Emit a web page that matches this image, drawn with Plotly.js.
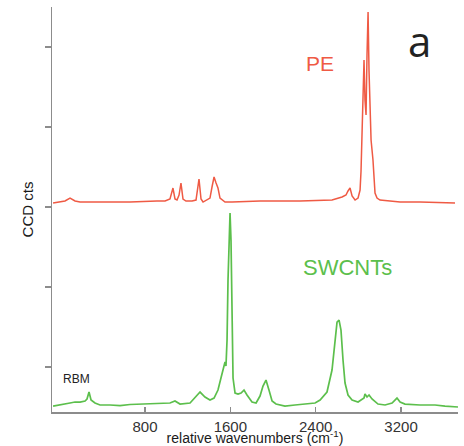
<!DOCTYPE html>
<html>
<head>
<meta charset="utf-8">
<script src="https://cdn.plot.ly/plotly-3.0.1.min.js"></script>
<style>html,body{margin:0;padding:0;background:#fff;}#chart{width:464px;height:446px;}</style>
</head>
<body>
<div id="chart"></div>
<script>
// Wavenumbers (cm^-1) and CCD counts
const peWavenumber = [-62, 3, 50, 97, 144, 191, 378, 659, 912, 988, 1034, 1062, 1081, 1100, 1119, 1137, 1156, 1184, 1241, 1278, 1306, 1325, 1344, 1381, 1409, 1428, 1447, 1466, 1484, 1503, 1550, 1616, 1878, 2253, 2553, 2647, 2684, 2703, 2722, 2741, 2769, 2797, 2816, 2825, 2834, 2844, 2853, 2862, 2872, 2881, 2891, 2900, 2919, 2937, 2956, 2975, 3003, 3097, 3191, 3378, 3566, 3706];
const peCounts = [3050, 3062, 3075, 3112, 3075, 3062, 3062, 3062, 3075, 3075, 3100, 3237, 3100, 3087, 3150, 3300, 3100, 3075, 3075, 3087, 3350, 3100, 3062, 3087, 3112, 3250, 3375, 3300, 3237, 3112, 3062, 3062, 3075, 3075, 3087, 3125, 3150, 3200, 3237, 3137, 3087, 3112, 3212, 3450, 3837, 4462, 4837, 4337, 4150, 4900, 5437, 4700, 3837, 3587, 3175, 3112, 3087, 3075, 3062, 3062, 3050, 3050];

const cntWavenumber = [-62, 3, 78, 97, 144, 191, 238, 256, 275, 294, 331, 378, 472, 566, 659, 753, 847, 941, 1034, 1081, 1128, 1222, 1269, 1316, 1362, 1409, 1447, 1484, 1512, 1541, 1550, 1559, 1569, 1578, 1588, 1597, 1606, 1616, 1625, 1644, 1672, 1700, 1728, 1756, 1803, 1841, 1878, 1906, 1934, 1962, 1991, 2028, 2112, 2206, 2300, 2394, 2441, 2506, 2553, 2581, 2600, 2619, 2637, 2656, 2675, 2703, 2741, 2797, 2853, 2862, 2881, 2900, 2928, 2984, 3050, 3116, 3162, 3191, 3237, 3378, 3519, 3612, 3734];
const cntCounts = [512, 525, 537, 550, 562, 562, 575, 600, 687, 587, 550, 525, 525, 518, 531, 537, 537, 550, 550, 575, 537, 550, 612, 687, 625, 587, 612, 712, 862, 1012, 1062, 1012, 1337, 2087, 2587, 2925, 2587, 1587, 862, 675, 662, 675, 712, 650, 562, 550, 637, 762, 837, 712, 575, 537, 512, 525, 537, 550, 587, 687, 962, 1337, 1562, 1587, 1462, 1087, 800, 650, 587, 562, 612, 662, 625, 650, 600, 537, 525, 550, 612, 562, 537, 525, 525, 512, 500];

const xTicks = [800, 1600, 2400, 3200];
const xTickLabels = ["800", "1600", "2400", "3200"];
const yTicks = [1000, 2000, 3000, 4000, 5000];

const axisColor = "#8c8c8c";
const red = "#ef5a44";
const green = "#5cbf4c";

const traces = [
  {x: peWavenumber, y: peCounts, type: "scatter", mode: "lines", line: {color: red, width: 1.5}, hoverinfo: "skip", xaxis: "x", yaxis: "y"},
  {x: cntWavenumber, y: cntCounts, type: "scatter", mode: "lines", line: {color: green, width: 1.7}, hoverinfo: "skip", xaxis: "x", yaxis: "y"}
];

const layout = {
  width: 464, height: 446,
  margin: {l: 52, r: 6, t: 7, b: 34, pad: 0},
  paper_bgcolor: "#fff", plot_bgcolor: "#fff",
  showlegend: false,
  font: {family: "Liberation Sans, Arial, sans-serif", color: "#333"},
  xaxis: {
    range: [-72, 3734], showgrid: false, zeroline: false,
    showline: true, linecolor: axisColor, linewidth: 1.5,
    tickmode: "array", tickvals: xTicks, ticktext: xTickLabels,
    ticks: "inside", ticklen: 5, tickwidth: 1.3, tickcolor: axisColor,
    tickfont: {size: 15, color: "#333"},
    title: {text: "relative wavenumbers (cm<sup>-1</sup>)", font: {size: 14, color: "#1a1a1a"}, standoff: 0}
  },
  xaxis2: {
    range: [-72, 3734], overlaying: "x", side: "bottom", showgrid: false, zeroline: false,
    showline: false, tickmode: "array", tickvals: xTicks, showticklabels: false,
    ticks: "outside", ticklen: 6, tickwidth: 1.3, tickcolor: axisColor
  },
  yaxis: {
    range: [437.5, 5500], showgrid: false, zeroline: false,
    showline: true, linecolor: axisColor, linewidth: 1.5,
    tickmode: "array", tickvals: yTicks, showticklabels: false,
    ticks: "outside", ticklen: 6, tickwidth: 1.3, tickcolor: axisColor,
    title: {text: "CCD cts", font: {size: 15, color: "#1a1a1a"}, standoff: 7}
  },
  yaxis2: {
    range: [437.5, 5500], overlaying: "y", side: "left", showgrid: false, zeroline: false,
    showline: false, tickmode: "array", tickvals: yTicks, showticklabels: false,
    ticks: "inside", ticklen: 7, tickwidth: 1.3, tickcolor: axisColor
  },
  annotations: [
    {x: 2440, y: 4800, xref: "x", yref: "y", text: "PE", showarrow: false, font: {size: 21, color: red}},
    {x: 2694, y: 2250, xref: "x", yref: "y", text: "SWCNTs", showarrow: false, font: {size: 22, color: green}},
    {x: 153, y: 850, xref: "x", yref: "y", text: "RBM", showarrow: false, font: {size: 12, color: "#222"}},
    {x: 0.906, y: 0.918, xref: "paper", yref: "paper", xanchor: "center", yanchor: "middle", text: "a", showarrow: false, font: {family: "Open Sans, sans-serif", size: 42, color: "#222"}}
  ]
};

Plotly.newPlot("chart", traces, layout, {staticPlot: true, displayModeBar: false});
</script>
</body>
</html>
